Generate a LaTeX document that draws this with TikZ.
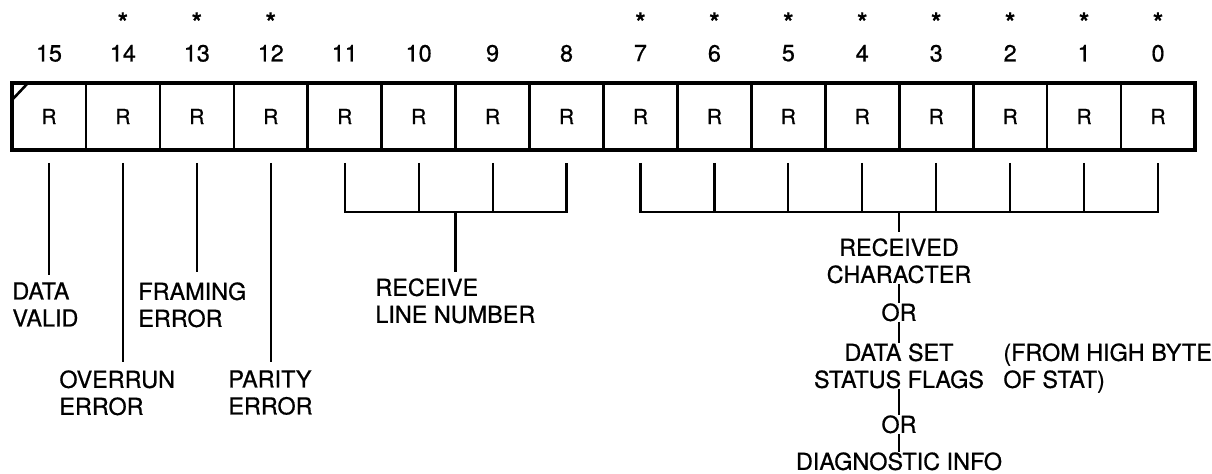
\documentclass[tikz,border=0pt]{standalone}
\usepackage{fontspec}
\setmainfont{TeX Gyre Heros}[FakeBold=0.7]
\begin{document}
\begin{tikzpicture}[x=0.5pt,y=-0.5pt,
  cell/.style={draw,line width=1.3pt,minimum width=36.97pt,minimum height=33.5pt,inner sep=0pt,outer sep=0pt,font=\fontsize{10.5}{12}\selectfont},
  num/.style={inner sep=0pt,anchor=north,font=\fontsize{11.7}{13.5}\selectfont},
  star/.style={inner sep=0pt,anchor=north,font=\fontsize{13}{13}\selectfont\bfseries},
  lbl/.style={inner sep=0pt,anchor=north west,align=left,font=\fontsize{11.7}{13.5}\selectfont},
  clbl/.style={inner sep=0pt,anchor=north,align=center,font=\fontsize{11.7}{13.5}\selectfont},
  conn/.style={line width=1.1pt},
  thin/.style={line width=0.9pt}]
\useasboundingbox (0,0) rectangle (1212,474);
% register cells
\foreach \b in {0,...,15}{
  \pgfmathsetmacro\cx{12+73.94*(15-\b+0.5)}
  \node[cell] (b\b) at (\cx,116.5) {R};
  \node[num] (n\b) at (\cx,44.5) {\b};
  \coordinate (t\b) at ([yshift=-6.5pt]b\b.south);
}
\foreach \b in {14,13,12,7,6,5,4,3,2,1,0}{
  \node[star] (s\b) at (n\b.north |- 0,12) {*};
}
\draw[line width=1.8pt] (b15.north west) rectangle (b0.south east);
\draw[line width=1.3pt] ([yshift=-8.5pt]b15.north west) -- ([xshift=8pt]b15.north west);
% single-bit labels
\node[lbl] (dv) at (12,282) {DATA\\VALID};
\node[lbl] (fe) at (138,282) {FRAMING\\ERROR};
\node[lbl] (oe) at (59,370) {OVERRUN\\ERROR};
\node[lbl] (pe) at (228,370) {PARITY\\ERROR};
\coordinate (e15) at (t15 |- 0,275);
\coordinate (e14) at (t14 |- 0,362);
\coordinate (e13) at (t13 |- 0,272);
\coordinate (e12) at (t12 |- 0,362);
\draw[conn] (t15) -- (e15);
\draw[conn] (t14) -- (e14);
\draw[conn] (t13) -- (e13);
\draw[conn] (t12) -- (e12);
% receive line number bracket
\coordinate (h1) at (455.5,212);
\coordinate (h1e) at (455.5,272);
\draw[conn] (t11) |- (h1) -| (t8);
\draw[conn] (t10) -- (t10 |- h1);
\draw[conn] (t9) -- (t9 |- h1);
\draw[conn] (h1) -- (h1e);
\node[lbl] (rl) at (375,278) {RECEIVE\\LINE NUMBER};
% received character bracket
\coordinate (h2) at (899,212);
\coordinate (h2e) at (899,232);
\draw[conn] (t7) |- (h2) -| (t0);
\foreach \b in {6,5,4,3,2,1}{\draw[conn] (t\b) -- (t\b |- h2);}
\draw[conn] (h2) -- (h2e);
\node[clbl] (rc) at (899,238) {RECEIVED\\CHARACTER};
\node[clbl] (or1) at (899,303) {OR};
\node[clbl] (ds) at (899,343) {DATA SET\\STATUS FLAGS};
\node[clbl] (or2) at (899,415) {OR};
\node[clbl] (di) at (899,452) {DIAGNOSTIC INFO};
\node[lbl] (fh) at (1003,343) {(FROM HIGH BYTE\\OF STAT)};
\draw[thin] (rc.south) -- (or1.north);
\draw[thin] (or1.south) -- (ds.north);
\draw[thin] (ds.south) -- (or2.north);
\draw[thin] (or2.south) -- (di.north);
\end{tikzpicture}
\end{document}
